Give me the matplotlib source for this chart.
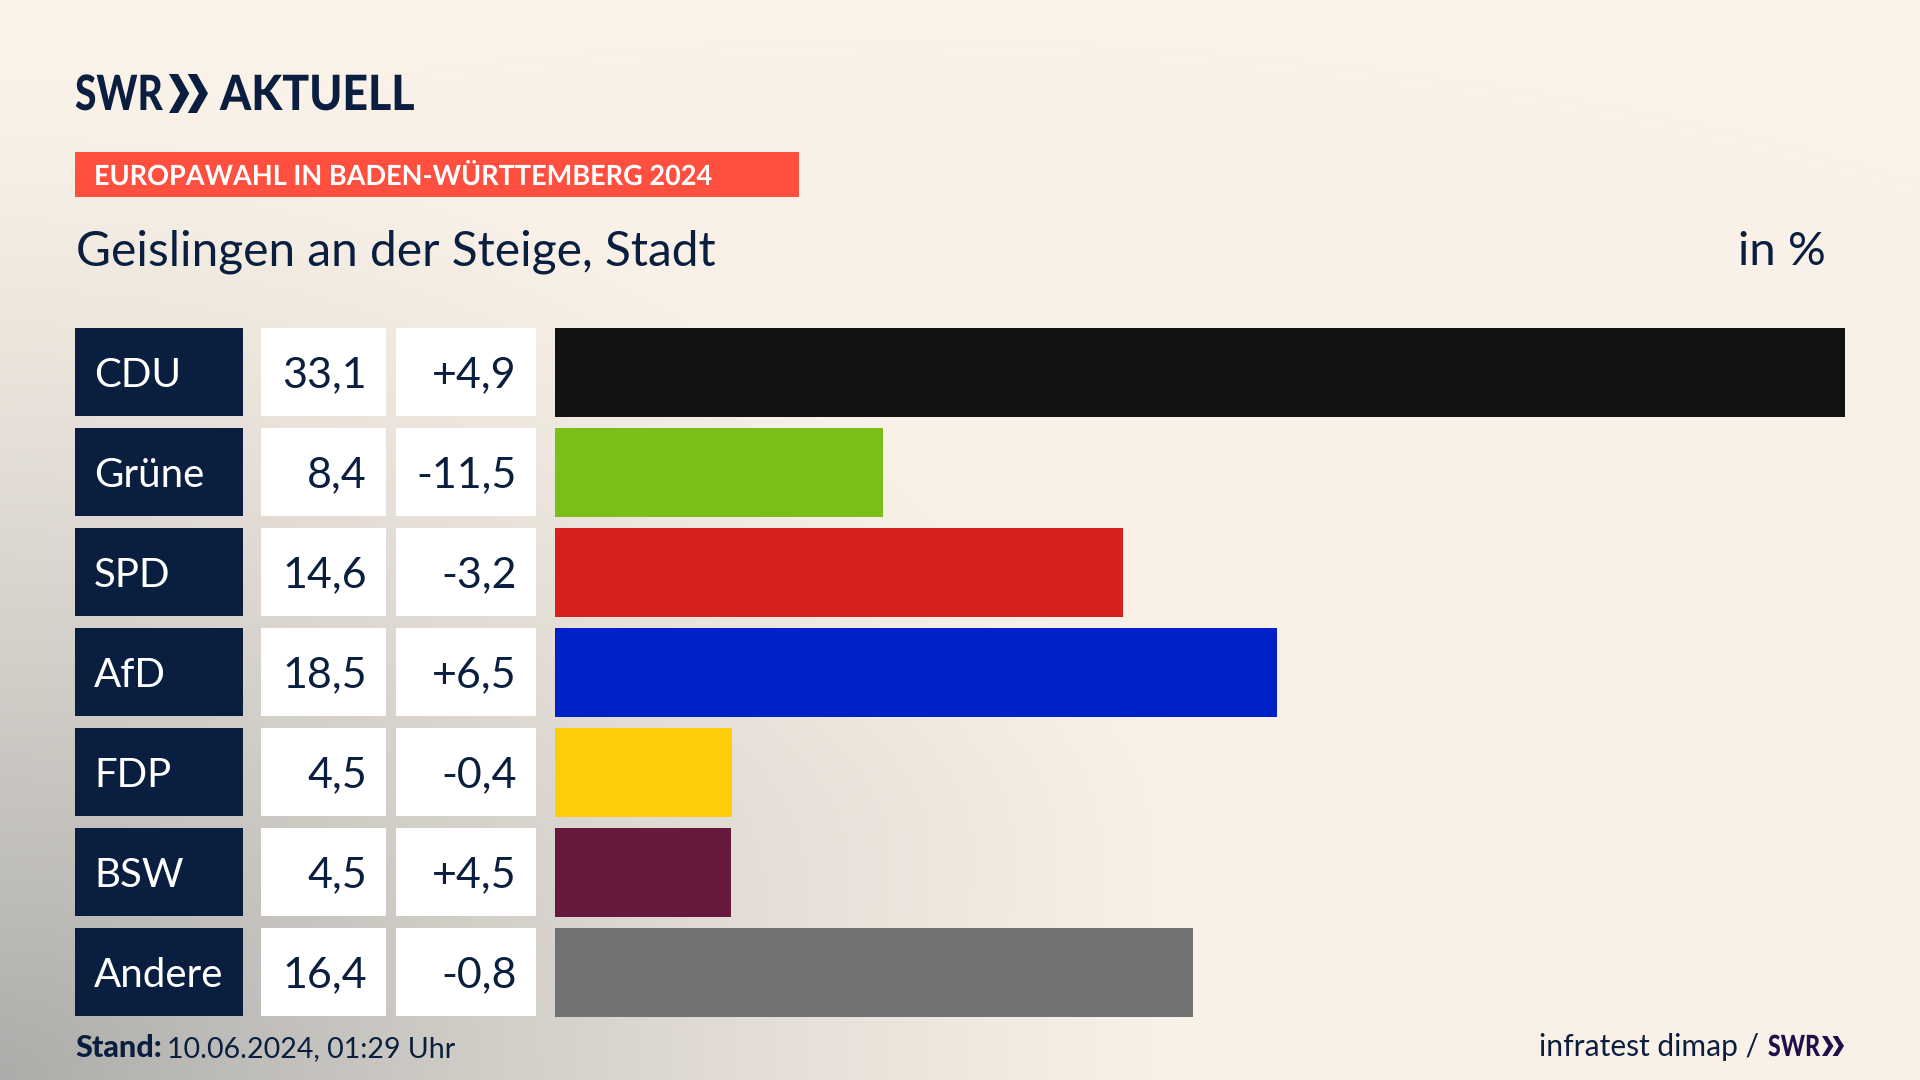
import matplotlib
matplotlib.use("Agg")
import matplotlib.pyplot as plt
import numpy as np
from matplotlib.patches import Polygon, Rectangle
from matplotlib.patheffects import AbstractPathEffect
from matplotlib.transforms import Affine2D

parties = ["CDU", "Grüne", "SPD", "AfD", "FDP", "BSW", "Andere"]
shares = [33.1, 8.42, 14.58, 18.52, 4.54, 4.52, 16.38]
changes = ["+4,9", "-11,5", "-3,2", "+6,5", "-0,4", "+4,5", "-0,8"]
party_colors = ["#131313", "#7ABF18", "#D7201E", "#0020C8", "#FFCC0A", "#66193D", "#707274"]

NAVY = "#0A1F3F"
FONT = "Lato"
W, H = 1920, 1080


class Squeeze(AbstractPathEffect):
    # narrows a text horizontally around its left edge (no condensed font here)
    def __init__(self, x0, sx):
        super().__init__()
        self.x0, self.sx = x0, sx

    def draw_path(self, renderer, gc, tpath, affine, rgbFace=None):
        squeeze = Affine2D().translate(-self.x0, 0).scale(self.sx, 1).translate(self.x0, 0)
        renderer.draw_path(gc, tpath, affine + squeeze, rgbFace)


fig = plt.figure(figsize=(W / 100, H / 100), dpi=100)

# full figure axes in pixel coordinates, y pointing down
bg = fig.add_axes([0, 0, 1, 1])
bg.set_xlim(0, W)
bg.set_ylim(H, 0)
bg.axis("off")

# background: cream with a grey glow from the lower left corner
yy, xx = np.mgrid[0:H:270j, 0:W:480j]
base = np.array([250, 242, 232]) / 255
grey = np.array([172, 172, 170]) / 255
dist = np.sqrt((xx / 1220) ** 2 + ((H - yy) / 1000) ** 2)
glow = np.clip(1 - dist, 0, 1) ** 1.25
blob = 0.04 * np.exp(-(((xx - 900) / 300) ** 2 + ((yy - 800) / 130) ** 2))
mix = np.clip(glow + blob, 0, 1)[..., None]
bg.imshow(base * (1 - mix) + grey * mix, extent=(0, W, H, 0), aspect="auto", zorder=0)
bg.set_xlim(0, W)
bg.set_ylim(H, 0)


def chevrons(x, top, bottom, width, color):
    # the two >> of the SWR logo
    mid = (top + bottom) / 2
    step = width * 0.48
    arm = width * 0.52
    for i in range(2):
        x0 = x + i * step
        bg.add_patch(Polygon([(x0, top), (x0 + arm * 0.45, top), (x0 + arm, mid),
                              (x0 + arm * 0.45, bottom), (x0, bottom), (x0 + arm * 0.55, mid)],
                             closed=True, color=color, lw=0, zorder=3))


def squeezed(x, y, s, sx, **kw):
    t = bg.text(x, y, s, **kw)
    t.set_path_effects([Squeeze(x, sx)])
    return t


# --- Header ---
squeezed(75, 110, "SWR", 0.80, family=FONT, weight="black", fontsize=35, color=NAVY)
chevrons(169, 74, 113, 39, NAVY)
squeezed(220, 110, "AKTUELL", 0.917, family=FONT, weight="black", fontsize=35, color=NAVY)

bg.add_patch(Rectangle((75, 152), 724, 45, color="#FF4F3E", lw=0, zorder=2))
squeezed(94, 185, "EUROPAWAHL IN BADEN-WÜRTTEMBERG 2024", 0.975, family=FONT, weight="bold",
         fontsize=20, color="white", zorder=3)
bg.text(76, 265, "Geislingen an der Steige, Stadt", family=FONT, fontsize=34.5, color=NAVY)
bg.text(1826, 265, "in %", family=FONT, fontsize=34, color=NAVY, ha="right")

# --- Table cells ---
for i, (party, share, change) in enumerate(zip(parties, shares, changes)):
    top = 328 + i * 100
    base_y = top + 59
    bg.add_patch(Rectangle((75, top), 167.5, 88, color=NAVY, lw=0, zorder=2))
    bg.add_patch(Rectangle((261, top), 125, 88, color="white", lw=0, zorder=2))
    bg.add_patch(Rectangle((396, top), 140, 88, color="white", lw=0, zorder=2))
    bg.text(94, base_y, party, family=FONT, fontsize=29, color="white", zorder=3)
    bg.text(367, base_y, f"{share:.1f}".replace(".", ","), family=FONT, fontsize=31,
            color=NAVY, ha="right", zorder=3)
    bg.text(517, base_y, change, family=FONT, fontsize=31, color=NAVY, ha="right", zorder=3)

# --- Bars ---
ax = fig.add_axes([555 / W, 1 - 1016.5 / H, (1845 - 555) / W, (1016.5 - 328) / H])
ax.patch.set_alpha(0)
y_pos = np.arange(len(parties))
ax.barh(y_pos, shares, height=0.885, color=party_colors)
ax.set_xlim(0, max(shares))
ax.set_ylim(len(parties) - 1 + 0.4425, -0.4425)
ax.axis("off")

# --- Footer ---
bg.text(75, 1057, "Stand:", family=FONT, weight="black", fontsize=22, color=NAVY)
bg.text(167, 1057, "10.06.2024, 01:29 Uhr", family=FONT, fontsize=20.5, color=NAVY)
bg.text(1539, 1056, "infratest dimap /", family=FONT, fontsize=21.6, color=NAVY)
squeezed(1768, 1056, "SWR", 0.79, family=FONT, weight="black", fontsize=21, color="#1F0F4A")
chevrons(1822, 1036, 1056, 22, "#1F0F4A")

fig.savefig("out.png", dpi=100)
